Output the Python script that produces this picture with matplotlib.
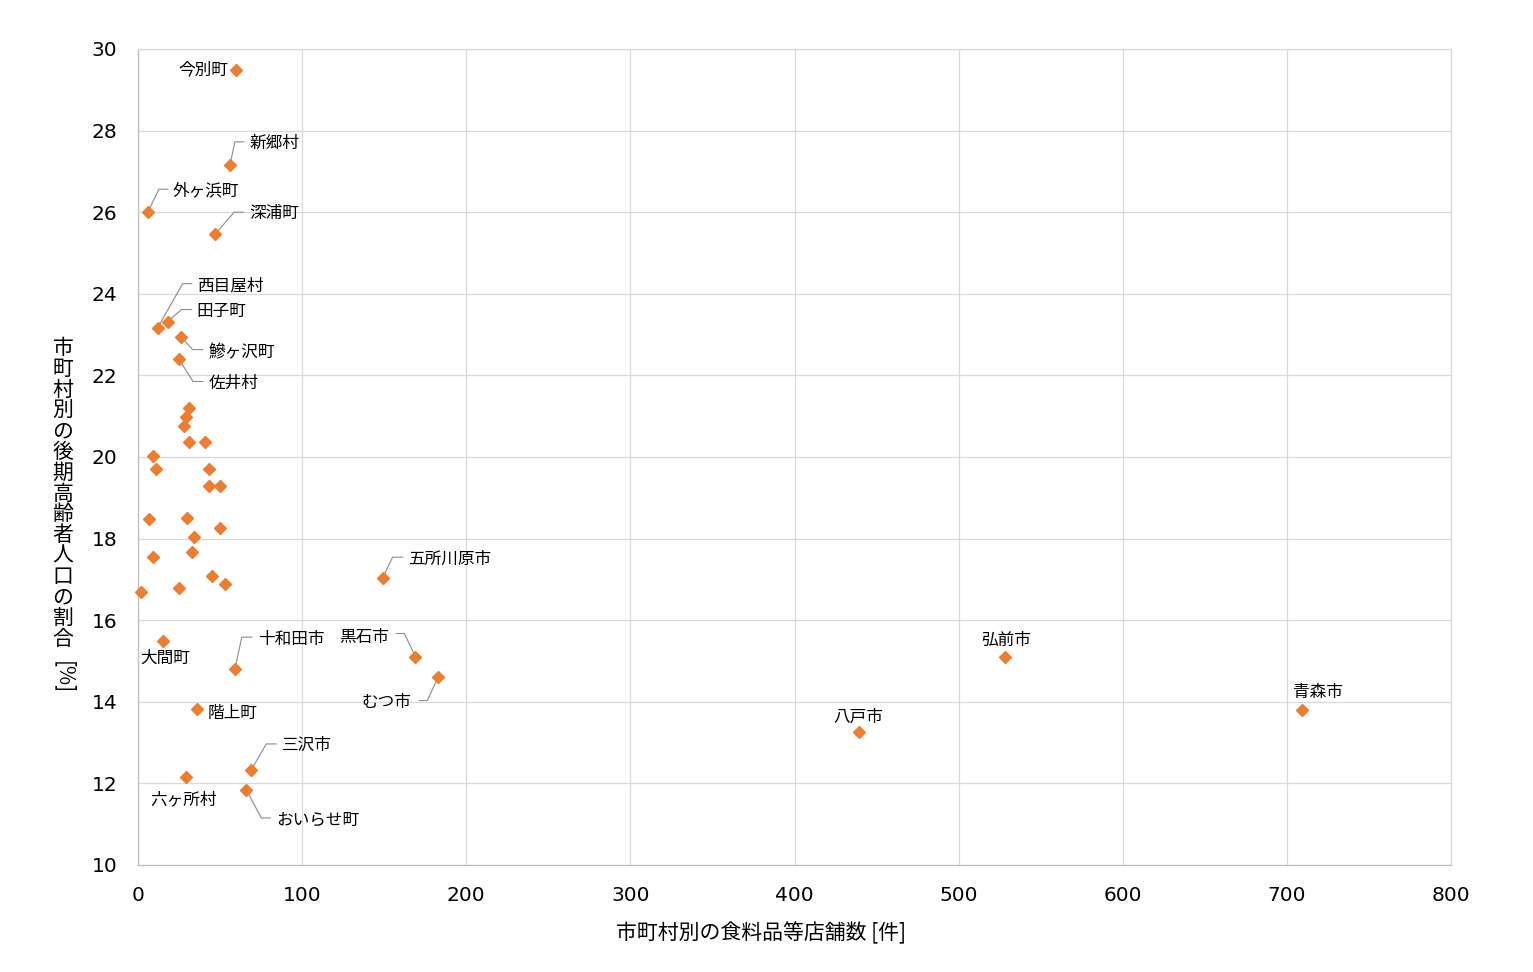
import matplotlib
matplotlib.use("Agg")
import matplotlib.pyplot as plt

plt.rcParams['font.family'] = ['Noto Sans CJK JP', 'DejaVu Sans']

# municipality name ('' = no label), number of food stores, share of 75+ population [%]
names = ["今別町", "新郷村", "外ヶ浜町", "深浦町", "西目屋村", "田子町", "鰺ヶ沢町", "佐井村",
         "五所川原市", "大間町", "十和田市", "黒石市", "むつ市", "階上町", "三沢市", "六ヶ所村",
         "おいらせ町", "弘前市", "八戸市", "青森市",
         "", "", "", "", "", "", "", "", "", "",
         "", "", "", "", "", "", "", "", "", ""]
stores = [60, 56, 6, 47, 12, 18, 26, 25,
          149, 15, 59, 169, 183, 36, 69, 29,
          66, 528, 439, 709,
          31, 29, 28, 31, 41, 9, 11, 43, 43, 50,
          7, 30, 50, 34, 9, 33, 45, 53, 25, 2]
ratio = [29.49, 27.16, 26.00, 25.46, 23.17, 23.32, 22.95, 22.39,
         17.03, 15.50, 14.80, 15.11, 14.62, 13.82, 12.33, 12.16,
         11.84, 15.10, 13.26, 13.80,
         21.19, 20.98, 20.77, 20.37, 20.37, 20.03, 19.71, 19.71, 19.30, 19.30,
         18.47, 18.50, 18.25, 18.05, 17.55, 17.68, 17.09, 16.88, 16.78, 16.70]

x_ticks = [0, 100, 200, 300, 400, 500, 600, 700, 800]
y_ticks = [10, 12, 14, 16, 18, 20, 22, 24, 26, 28, 30]

# label placement in pixels: text offset (dx, dy), alignment, leader (elbow dx, elbow dy, end dx)
label_pos = {
    "今別町": (-8, 0, "right", None),
    "新郷村": (20, 22, "left", (5, 23, 14)),
    "外ヶ浜町": (25, 21, "left", (11, 23, 20)),
    "深浦町": (34, 21, "left", (19, 22, 28)),
    "西目屋村": (39, 42, "left", (25, 44, 34)),
    "田子町": (29, 10, "left", (14, 12, 24)),
    "鰺ヶ沢町": (28, -16, "left", (12, -13, 22)),
    "佐井村": (30, -24, "left", (14, -22, 24)),
    "五所川原市": (26, 19, "left", (10, 21, 20)),
    "大間町": (3, -18, "center", None),
    "十和田市": (23, 30, "left", (7, 32, 17)),
    "黒石市": (-26, 19, "right", (-11, 23, -19)),
    "むつ市": (-27, -26, "right", (-11, -24, -19)),
    "階上町": (11, -4, "left", None),
    "三沢市": (31, 25, "left", (15, 26, 25)),
    "六ヶ所村": (-2, -23, "center", None),
    "おいらせ町": (30, -30, "left", (15, -28, 24)),
    "弘前市": (2, 17, "center", None),
    "八戸市": (0, 15, "center", None),
    "青森市": (16, 17, "center", None),
}

W, H = 1533, 972
fig = plt.figure(figsize=(W / 100, H / 100), dpi=100)
ax = fig.add_axes([138 / W, 1 - 865 / H, 1313 / W, 816 / H])

ax.plot(stores, ratio, linestyle="none", marker="D", markersize=6.3,
        color="#ED7D31", zorder=3, clip_on=False)

ax.set_xlim(0, 800)
ax.set_ylim(10, 30)
ax.set_xticks(x_ticks)
ax.set_yticks(y_ticks)
ax.grid(True, color="#d9d9d9", linewidth=0.9)
ax.set_axisbelow(True)
for side, sp in ax.spines.items():
    sp.set_color("#bfbfbf" if side in ("left", "bottom") else "#d9d9d9")
    sp.set_linewidth(0.9)
ax.tick_params(length=0, labelsize=14.5, colors="black")
ax.tick_params(axis="y", pad=15)
ax.tick_params(axis="x", pad=15)
for lab in ax.get_xticklabels() + ax.get_yticklabels():
    lab.set_family("DejaVu Sans")

to_data = ax.transData.inverted()
for name, x, y in zip(names, stores, ratio):
    if not name:
        continue
    dx, dy, ha, lead = label_pos[name]
    ax.annotate(name, (x, y), xytext=(dx, dy), textcoords="offset pixels",
                ha=ha, va="center", fontsize=12, zorder=4)
    if lead:
        ex, ey, hx = lead
        px, py = ax.transData.transform((x, y))
        pts = to_data.transform([(px, py), (px + ex, py + ey), (px + hx, py + ey)])
        ax.plot(pts[:, 0], pts[:, 1], color="#8c8c8c", linewidth=0.8, zorder=2,
                clip_on=False)

# x axis title
fig.text(761 / W, 1 - 933 / H, "市町村別の食料品等店舗数 [件]", ha="center", va="center",
         fontsize=15)

# y axis title: stacked upright characters, bracket part rotated
ylab = "市町村別の後期高齢者人口の割合"
for i, ch in enumerate(ylab):
    fig.text(63 / W, 1 - (348 + i * 20.8) / H, ch, ha="center", va="center", fontsize=15)
fig.text(63 / W, 1 - 678 / H, "[%]", ha="center", va="center", fontsize=15, rotation=270)

fig.savefig("out.png", dpi=100)
